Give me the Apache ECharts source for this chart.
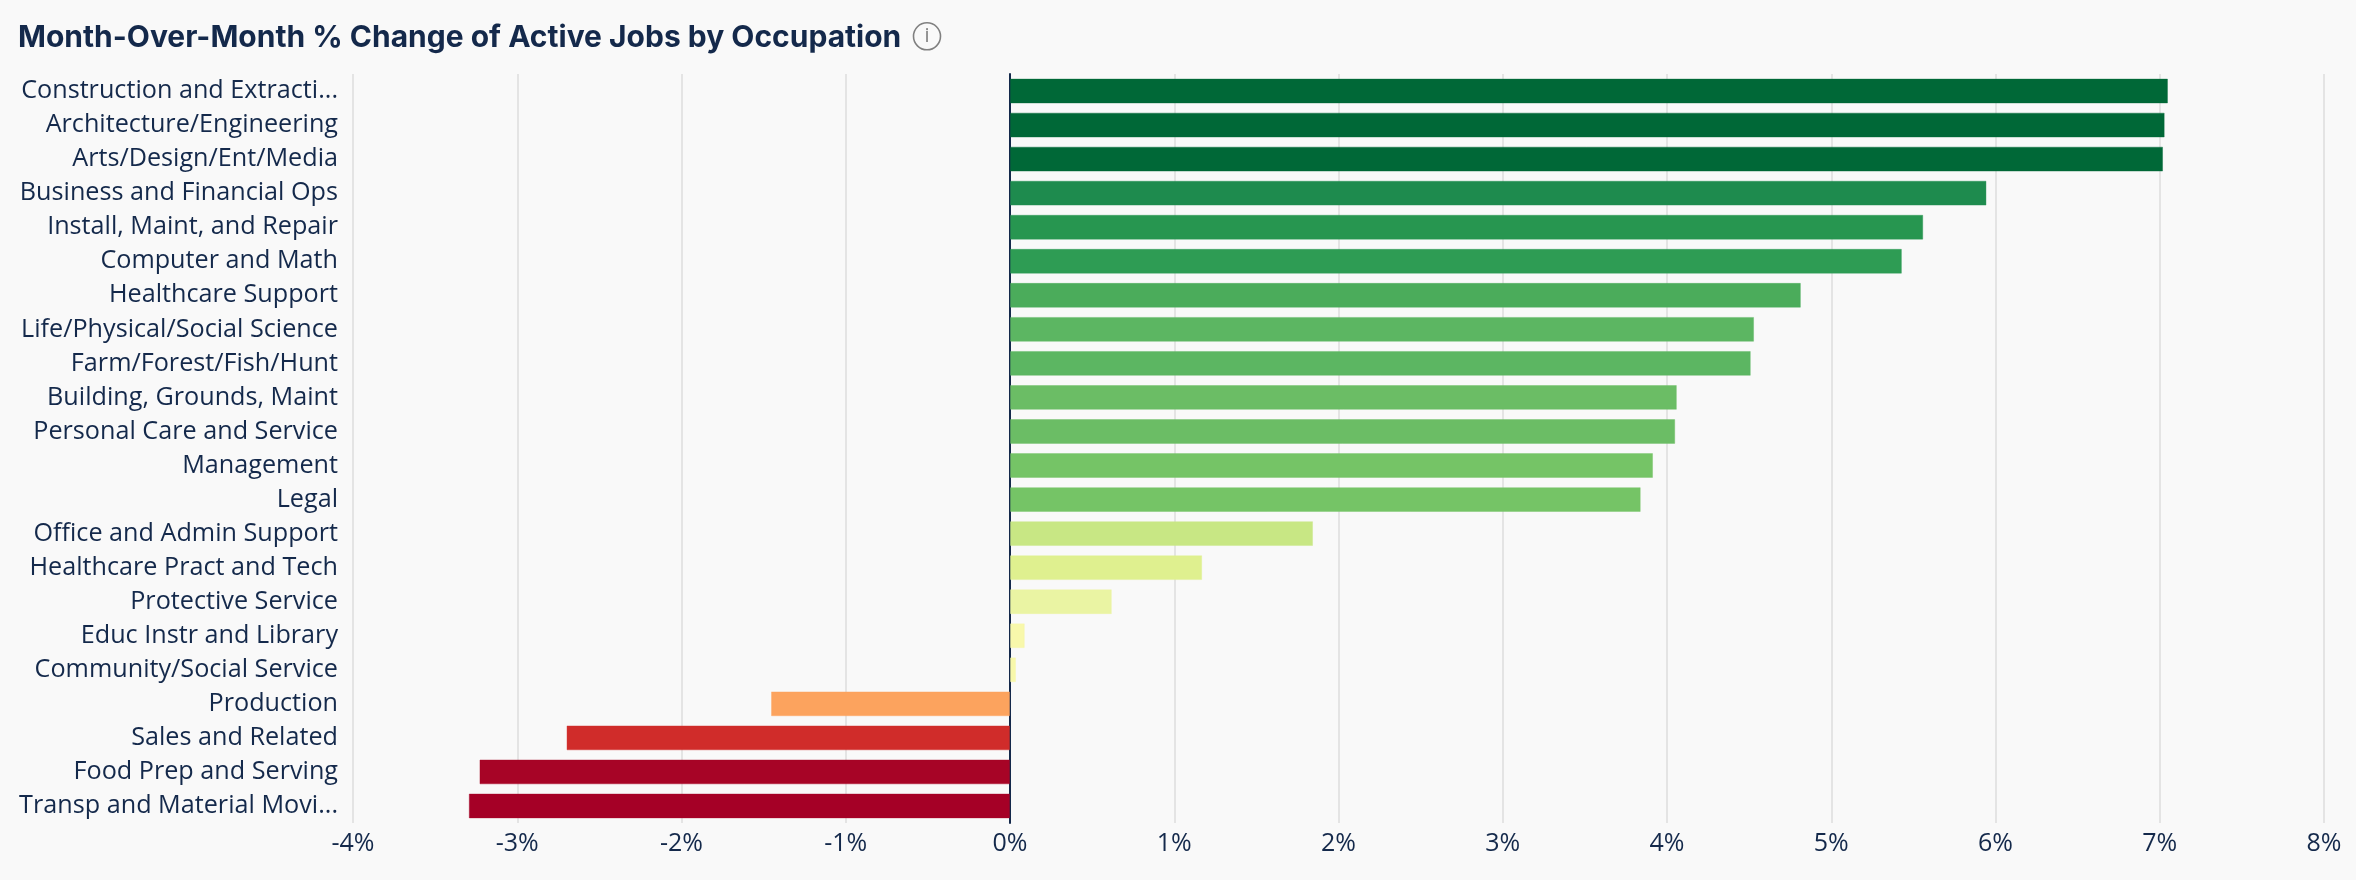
<!DOCTYPE html>
<html>
<head>
<meta charset="utf-8">
<style>html,body{margin:0;padding:0;background:#f9f9f9}#c{width:2356px;height:880px}</style>
<script src="https://cdn.jsdelivr.net/npm/echarts@6/dist/echarts.min.js"></script>
</head>
<body>
<div id="c"></div>
<script>
const categories = ["Construction and Extracti...","Architecture/Engineering","Arts/Design/Ent/Media","Business and Financial Ops","Install, Maint, and Repair","Computer and Math","Healthcare Support","Life/Physical/Social Science","Farm/Forest/Fish/Hunt","Building, Grounds, Maint","Personal Care and Service","Management","Legal","Office and Admin Support","Healthcare Pract and Tech","Protective Service","Educ Instr and Library","Community/Social Service","Production","Sales and Related","Food Prep and Serving","Transp and Material Movi..."];
const values = [7.05,7.03,7.02,5.945,5.56,5.43,4.815,4.53,4.51,4.06,4.05,3.915,3.84,1.845,1.17,0.62,0.09,0.037,-1.455,-2.70,-3.23,-3.295];
const colors = ["#006837","#006837","#006837","#1e8b4e","#279650","#2e9c54","#4bac5b","#5cb662","#5cb662","#6bbd65","#6bbd65","#75c466","#75c466","#c8e784","#dff08f","#eaf4a3","#f8f8ab","#f8f8ab","#fca35e","#d02c2a","#a70426","#a50026"];
const ticks = [-4,-3,-2,-1,0,1,2,3,4,5,6,7,8];
const titleText = "Month-Over-Month % Change of Active Jobs by Occupation";
const ink = "#14294b";
const chart = echarts.init(document.getElementById('c'), null, {renderer:'canvas'});
chart.setOption({
  animation:false,
  backgroundColor:'#f9f9f9',
  title:{text:titleText,left:13,top:18,textStyle:{fontFamily:'Inter',fontWeight:700,fontSize:30,color:ink}},
  graphic:[
    {type:'circle',shape:{cx:927,cy:36.3,r:13.5},style:{fill:'none',stroke:'#808080',lineWidth:1.6}},
    {type:'text',style:{x:927,y:36.5,text:'i',fill:'#808080',font:'400 20px "Open Sans"',align:'center',verticalAlign:'middle'}}
  ],
  grid:{left:353,right:32,top:74,bottom:57,containLabel:false},
  xAxis:{type:'value',min:ticks[0],max:ticks[ticks.length-1],interval:1,
    axisLine:{show:false},axisTick:{show:false},
    splitLine:{show:true,lineStyle:{color:'#e4e4e4',width:2}},
    axisLabel:{formatter:v=>v+'%',color:ink,fontFamily:'Open Sans',fontSize:25,margin:8}},
  yAxis:{type:'category',inverse:true,data:categories,
    axisLine:{show:true,onZero:true,lineStyle:{color:ink,width:2}},
    axisTick:{show:false},
    axisLabel:{color:ink,fontFamily:'Open Sans',fontSize:25.2,margin:15,align:'right',padding:[2,0,0,0]}},
  series:[{type:'bar',barCategoryGap:'27%',
    data:values.map((v,i)=>({value:v,itemStyle:{color:colors[i],borderColor:colors[i]+'66',borderWidth:1}}))}]
});
</script>
</body>
</html>
